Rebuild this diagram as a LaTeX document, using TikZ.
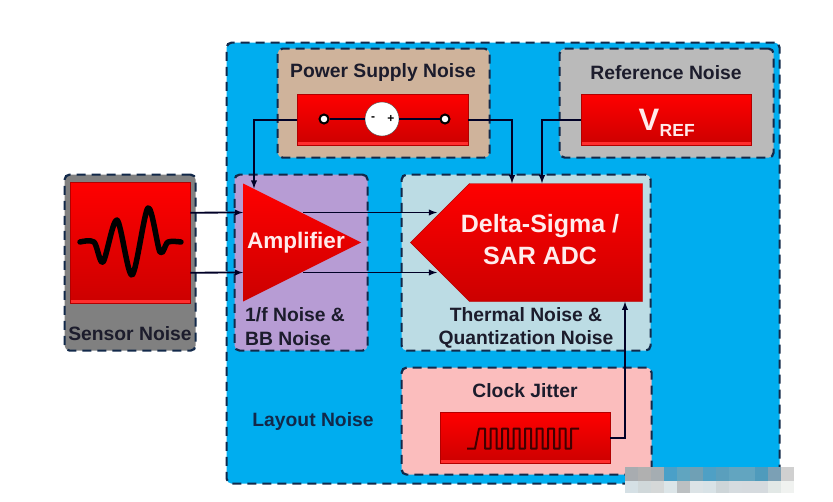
\documentclass[tikz,border=0pt]{standalone}
\usepackage{fontspec}
\setmainfont{Liberation Sans}
\usetikzlibrary{calc,shapes}
\definecolor{dashc}{HTML}{12294A}
\definecolor{txtc}{HTML}{1C1C2C}
\definecolor{skyc}{HTML}{00ADEF}
\definecolor{tanc}{HTML}{CFB39B}
\definecolor{purc}{HTML}{B79CD4}
\definecolor{palec}{HTML}{BCDCE4}
\definecolor{pinkc}{HTML}{FBBDBD}

\begin{document}
\begin{tikzpicture}[x=1pt,y=-1pt,
pnl/.style={draw=dashc, line width=2.2pt, dash pattern=on 9pt off 6pt, rounded corners=5pt, anchor=north west, inner sep=0},
rbx/.style={top color=red, bottom color=red!80!black, draw=red!70!black, line width=0.4pt, anchor=north west, inner sep=0,
	path picture={\fill[red!82!white] ([yshift=3pt]path picture bounding box.south west) rectangle (path picture bounding box.south east);}},
lab/.style={font=\bfseries\fontsize{19.3}{22}\selectfont, text=txtc, inner sep=0},
wlab/.style={font=\bfseries\fontsize{25}{29}\selectfont, text=white!92!red, inner sep=0},
wire/.style={draw=black!85!blue, line width=1.8pt},
arr/.style={wire, -{latex}},
pin/.style={circle, draw=black, line width=2pt, fill=white, minimum width=9pt, inner sep=0}]
	\useasboundingbox (0,0) rectangle (833,501);

	\node[pnl, fill=skyc, minimum width=553pt, minimum height=441pt] at (225.5,41.5) (main) {};
	\node[pnl, fill=tanc, minimum width=212pt, minimum height=109pt] at (276.5,47.5) (pwrp) {};
	\node[pnl, fill=black!27, minimum width=214pt, minimum height=109pt] at (558.5,47.5) (refp) {};
	\node[pnl, fill=black!50, minimum width=131pt, minimum height=176pt] at (63.5,173.5) (senp) {};
	\node[pnl, fill=purc, minimum width=133pt, minimum height=176pt] at (233.5,173.5) (ampp) {};
	\node[pnl, fill=palec, minimum width=249pt, minimum height=176pt] at (400.5,173.5) (adcp) {};
	\node[pnl, fill=pinkc, minimum width=250pt, minimum height=107pt] at (400.5,366.5) (clkp) {};

	\node[rbx, minimum width=120pt, minimum height=121pt] at (70,182) (sen) {};
	\node[rbx, minimum width=171pt, minimum height=51pt] at (297,94) (pwr) {};
	\node[rbx, minimum width=170pt, minimum height=51pt] at (581,94) (ref) {};
	\node[rbx, minimum width=170pt, minimum height=51pt] at (440,412) (clk) {};

	\node[isosceles triangle, isosceles triangle apex angle=90, isosceles triangle stretches, top color=red, bottom color=red!80!black,
		minimum width=118pt, minimum height=118pt, inner sep=0, anchor=lower side] at (243,242.5) (amp) {};
	\node[signal, signal from=nowhere, signal to=west, signal pointer angle=90, top color=red, bottom color=red!80!black, draw=red!70!black, line width=0.4pt,
		minimum width=232pt, minimum height=118pt, inner sep=0] at (556,242.5) (adc) {};

	\node[lab] at (383,73) (pwrt) {Power Supply Noise};
	\node[lab] at (666,73) (reft) {Reference Noise};
	\node[lab] at (130,334) (sent) {Sensor Noise};
	\node[lab, anchor=west] at (245,315) (ampt) {1/f Noise \&};
	\node[lab, anchor=west] at (245,339) (ampu) {BB Noise};
	\node[lab] at (526,315) (adct) {Thermal Noise \&};
	\node[lab] at (526,339) (adcu) {Quantization Noise};
	\node[lab] at (525,391) (clkt) {Clock Jitter};
	\node[lab, text=dashc] at (313,422) (layt) {Layout Noise};
	\node[wlab, font=\bfseries\fontsize{22.5}{26}\selectfont] at (296,243) (ampl) {Amplifier};
	\node[wlab] at (540,226) (adcl) {Delta-Sigma /};
	\node[wlab] at (540,256) (adcm) {SAR ADC};
	\node[wlab, anchor=base, font=\bfseries\fontsize{31}{35}\selectfont] at (649,130) (vr) {V};
	\node[wlab, anchor=base west, font=\bfseries\fontsize{17.5}{20}\selectfont] at ([yshift=-6pt]vr.base east) (vrs) {REF};

	% signal drawn inside the sensor box
	\draw[line width=5.5pt, line cap=round, line join=round, black] plot[smooth, tension=0.5] coordinates
		{(80,242) (94,242) (103,262) (117,220) (132,275) (148,208) (160,252) (168,242) (181,242)};

	% supply symbol
	\node[pin] at (324,119) (pa) {};
	\node[pin] at (445,119) (pb) {};
	\node[circle, draw=black!70, fill=white, minimum width=34pt, inner sep=0] at (382,119) (src) {};
	\draw[wire, line width=2pt] (pa) -- (src);
	\draw[wire, line width=2pt] (src) -- (pb);
	\node[inner sep=0, font=\bfseries\fontsize{12}{12}\selectfont] at ([xshift=-9pt]src.center) (sm) {-};
	\node[inner sep=0, font=\bfseries\fontsize{12}{12}\selectfont] at ([xshift=9pt]src.center) (sp) {+};

	% clock waveform
	\draw[line width=2pt, black!75!red, line join=round] (clk.west) ++(27,11) -- ++(8,0) -- ++(4,-20)
		foreach \i in {1,...,8} {-- ++(6,0) -- ++(0,20) -- ++(5.5,0) -- ++(0,-20)} -- ++(8,0);

	% connectors
	\draw[arr] ([yshift=30pt]sen.east) -- ([yshift=30pt]amp.lower side);
	\draw[arr] ([yshift=-30pt]sen.east) -- ([yshift=-30pt]amp.lower side);
	\draw[arr] ([xshift=60pt,yshift=30pt]amp.lower side) -- ([xshift=-119pt,yshift=30pt]adc.center);
	\draw[arr] ([xshift=60pt,yshift=-30pt]amp.lower side) -- ([xshift=-119pt,yshift=-30pt]adc.center);
	\draw[arr] (pwr.west) -| ([xshift=11pt,yshift=54pt]amp.lower side);
	\draw[arr] (pwr.east) -| ([xshift=-44pt]adc.north);
	\draw[arr] (ref.west) -| ([xshift=-14pt]adc.north);
	\draw[arr] (clk.east) -| ([xshift=69pt]adc.south);

	% blurred patch over the lower edge
	\foreach \c [count=\i from 0] in {A8ACB0,B0B0B0,A5ADB2,4AA0C8,60A5C0,6FA0B5,4EA0C5,5A9FBD,62A5C0,62A5C0,4F9BBC,7BA0B5,D0D0D0} {
		\definecolor{mc}{HTML}{\c}
		\fill[mc] (625+13*\i,467) rectangle ++(13,14);
	}
	\foreach \c [count=\i from 0] in {D5E0E5,D0D8DA,D5D8D8,DCE5E8,BCC0C2,DCE3E6,D8E2E6,CDD5D8,D5DBDF,D5DADE,D5DADE,E2E8E6,F0F2F0} {
		\definecolor{mc}{HTML}{\c}
		\fill[mc] (625+13*\i,481) rectangle ++(13,12);
	}
\end{tikzpicture}
\end{document}
